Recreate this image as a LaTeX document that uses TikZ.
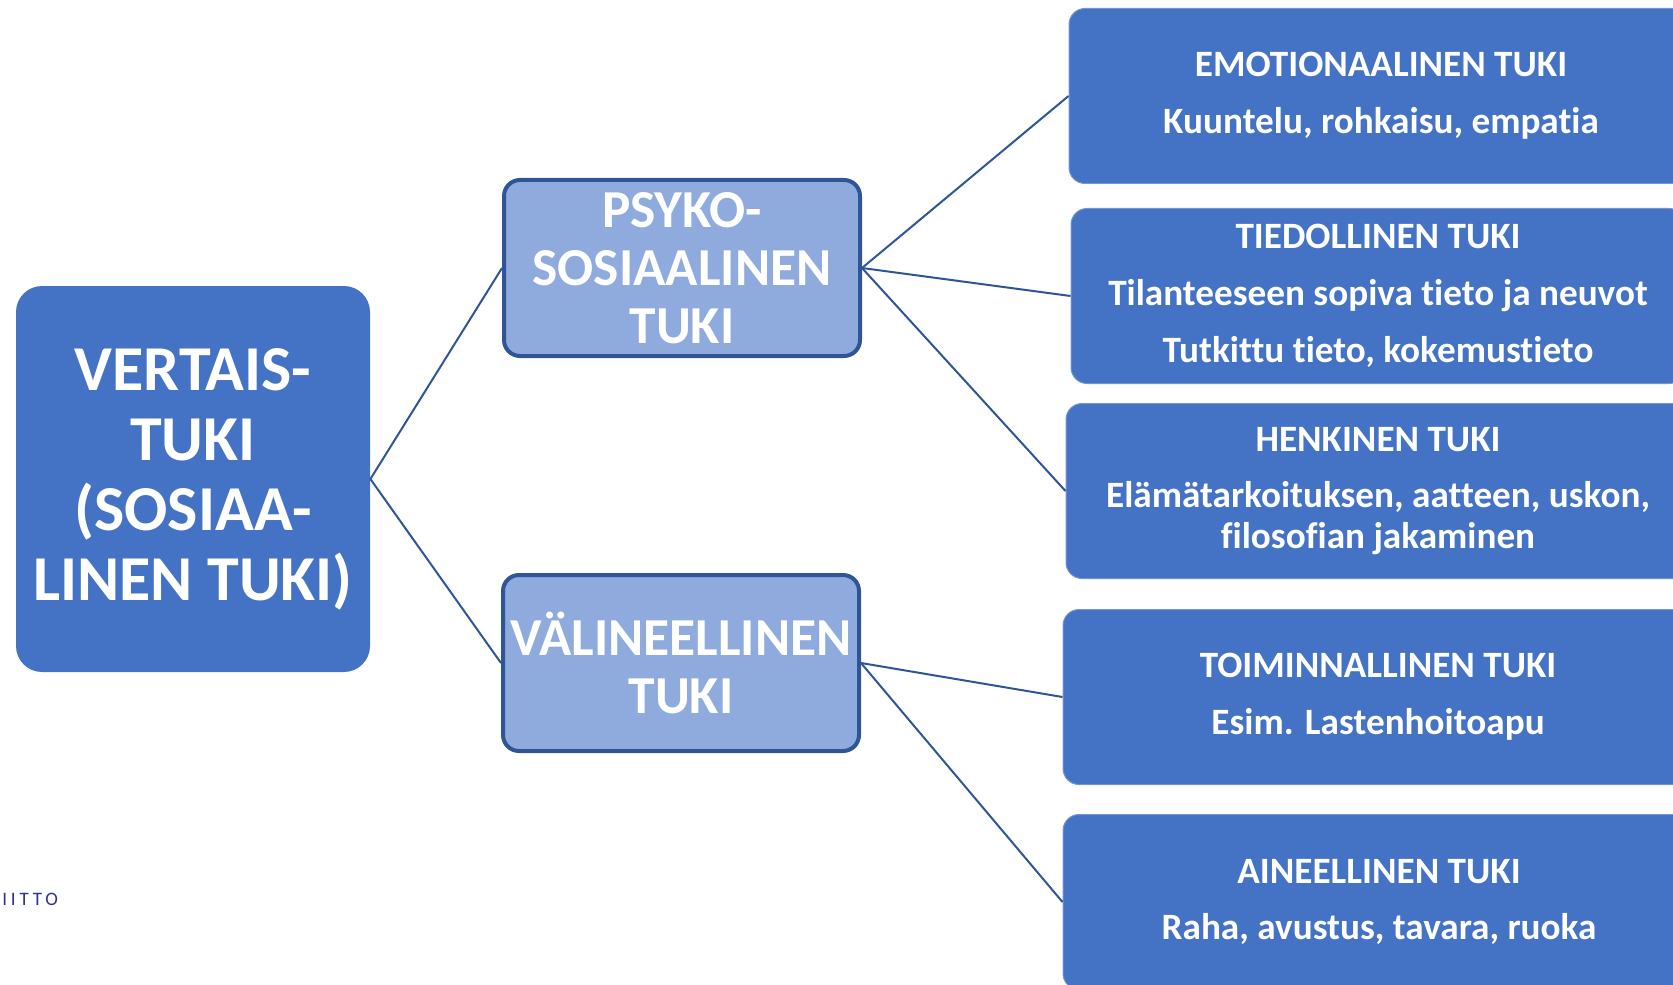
\documentclass[tikz,border=0pt]{standalone}
\usepackage{fontspec}
\setmainfont[Ligatures=NoCommon]{Carlito}
\usetikzlibrary{positioning}
\definecolor{tukiblue}{HTML}{4472C4}
\definecolor{tukilight}{HTML}{8FAADC}
\definecolor{tukidark}{HTML}{2F5597}
\definecolor{iittoblue}{HTML}{2E3192}

\begin{document}
\begin{tikzpicture}[x=0.5pt,y=-0.5pt,
  rootbox/.style={fill=tukiblue,rounded corners=13pt,minimum width=177pt,minimum height=193pt,
    inner sep=0pt,text=white,align=center,font=\fontsize{32}{35}\selectfont\bfseries},
  midbox/.style={fill=tukilight,draw=tukidark,line width=2pt,rounded corners=8pt,minimum width=178pt,
    minimum height=88pt,inner sep=0pt,text=white,align=center,font=\fontsize{26.7}{29}\selectfont\bfseries},
  leafbox/.style={fill=tukiblue,draw=tukiblue!75!white,line width=0.5pt,rounded corners=8pt,
    minimum width=312pt,minimum height=87.5pt,inner sep=0pt,text=white,align=center,
    font=\fontsize{18.6}{20.4}\selectfont\bfseries},
  link/.style={draw=tukidark,line width=1pt}]
  \useasboundingbox (0,0) rectangle (1673,984);
  \clip (0,0) rectangle (1673,984);

  % main levels
  \node[rootbox] (vertais) at (193,479) {VERTAIS-\\TUKI\\(SOSIAA-\\LINEN TUKI)};
  \node[midbox] (psyko) at (682,268) {PSYKO-\\SOSIAALINEN\\TUKI};
  \node[midbox] (valin) at (681,663) {VÄLINEELLINEN\\TUKI};

  % leaves
  \node[leafbox] (emo) at (1381,96) {EMOTIONAALINEN TUKI\\[8pt]Kuuntelu, rohkaisu, empatia};
  \node[leafbox,minimum width=307pt] (tied) at (1378,296) {TIEDOLLINEN TUKI\\[8pt]Tilanteeseen sopiva tieto ja neuvot\\[8pt]Tutkittu tieto, kokemustieto};
  \node[leafbox] (henk) at (1378,491) {HENKINEN TUKI\\[8pt]Elämätarkoituksen, aatteen, uskon,\\filosofian jakaminen};
  \node[leafbox,minimum width=315pt] (toim) at (1378,697) {TOIMINNALLINEN TUKI\\[8pt]Esim. Lastenhoitoapu};
  \node[leafbox,minimum width=316pt] (aine) at (1379,902) {AINEELLINEN TUKI\\[8pt]Raha, avustus, tavara, ruoka};

  \node[anchor=west,inner sep=0pt,text=iittoblue,font=\fontsize{9.5}{11}\selectfont\addfontfeature{LetterSpace=20}] (iitto) at (2,899) {IITTO};

  \path[link]
    (vertais.east) edge (psyko.west)
    (vertais.east) edge (valin.west)
    (psyko.east) edge (emo.west)
    (psyko.east) edge (tied.west)
    (psyko.east) edge (henk.west)
    (valin.east) edge (toim.west)
    (valin.east) edge (aine.west);
\end{tikzpicture}
\end{document}
